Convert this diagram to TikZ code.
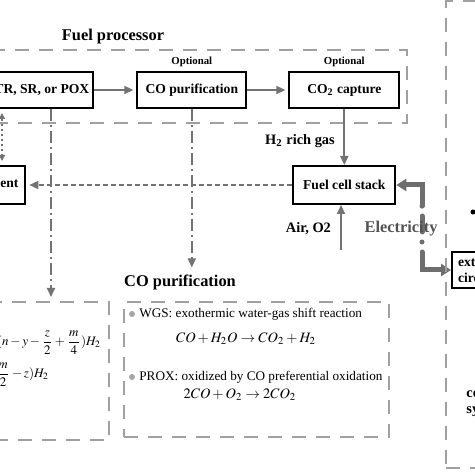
\documentclass[tikz,border=0pt]{standalone}
\usepackage{amsmath}
\usepackage{mathptmx}
\usepackage{fontspec}
\setmainfont{Liberation Serif}
\usetikzlibrary{arrows.meta, positioning, fit}
\definecolor{linegray}{HTML}{737373}
\definecolor{framegray}{HTML}{A0A0A0}
\definecolor{elecgray}{HTML}{6E6E6E}
\definecolor{dotgray}{HTML}{A6A6A6}
\newcommand{\headfont}{\fontsize{8.2}{10}\selectfont\bfseries}
\newcommand{\boxfont}{\fontsize{6.8}{8}\selectfont\bfseries}
\newcommand{\optfont}{\fontsize{5.4}{6}\selectfont\bfseries}
\newcommand{\labfont}{\fontsize{7.2}{8}\selectfont\bfseries}
\newcommand{\bodyfont}{\fontsize{6.6}{8}\selectfont}
\newcommand{\eqfont}{\fontsize{7.2}{9}\selectfont}
\newcommand{\reacfont}{\fontsize{6.5}{8}\selectfont}
\tikzset{
  procbox/.style={
    rectangle, draw=black, line width=1pt, fill=white, minimum height=18pt,
    text centered, font=\boxfont, inner sep=2pt
  },
  group/.style={
    draw=framegray, line width=1pt, dash pattern=on 7pt off 5pt, inner sep=0pt
  },
  arrow/.style={
    -{Triangle[length=4.5pt,width=4pt]}, line width=0.9pt, color=linegray
  },
  dashdot/.style={
    arrow, dash pattern=on 6pt off 2pt on 1pt off 2pt
  },
  dashline/.style={
    arrow, line width=0.8pt, dash pattern=on 2.5pt off 1.5pt
  },
  dotline/.style={
    {Triangle[length=3pt,width=3pt]}-{Triangle[length=3pt,width=3pt]},
    line width=0.9pt, color=linegray, dash pattern=on 1pt off 1.5pt
  },
  power/.style={
    -{Triangle[length=5pt,width=6pt]}, line width=2.5pt, color=elecgray, line cap=round
  },
  powerline/.style={
    line width=2.5pt, color=elecgray, line cap=round, dash pattern=on 0pt off 5pt on 8pt off 5pt
  },
  bullet/.style={circle, fill=dotgray, inner sep=0pt, minimum size=3pt}
}

\begin{document}
\begin{tikzpicture}[x=0.5pt, y=-0.5pt, node distance=21pt]
\useasboundingbox (0,0) rectangle (474,474);

\node[procbox, minimum width=55.5pt] (atr) at (37.5,90) {ATR, SR, or POX};
\node[procbox, minimum width=54.5pt, right=of atr] (copurif) {CO purification};
\node[procbox, minimum width=55pt, right=20.5pt of copurif] (cocap) {CO\textsubscript{2} capture};
\node[procbox, minimum width=51pt, minimum height=19pt, below=28pt of cocap] (stack) {Fuel cell stack};
\node[procbox, minimum width=60pt, minimum height=19pt, left=133pt of stack] (mgmt) {Heat management};
\node[procbox, anchor=west, align=left, inner xsep=3pt] (ext) at (451,270) {external\\circuit};

\node[font=\optfont, inner sep=1pt, above=1pt of copurif] (opt1) {Optional};
\node[font=\optfont, inner sep=1pt, above=1pt of cocap] (opt2) {Optional};
\node[font=\headfont] (fptitle) at (113,37) {Fuel processor};
\node[group, fit={(-30,50) (407,123)}] (fp) {};

\draw[arrow, shorten >=1.5pt] (atr) -- (copurif);
\draw[arrow, shorten >=1.5pt] (copurif) -- (cocap);
\draw[arrow] (cocap) -- (stack);
\node[font=\labfont] (h2lab) at (300,141) {H\textsubscript{2} rich gas};

\coordinate (airin) at (341,250);
\draw[arrow] (airin) -- (airin |- stack.south);
\node[font=\labfont, anchor=east] (airlab) at (338,229) {Air, O2};

\draw[dashline, shorten >=1.5pt] (stack) -- (mgmt);
\coordinate (loopx) at (2,0);
\draw[dotline, shorten <=2pt, shorten >=2pt] (atr.south -| loopx) -- (mgmt.north -| loopx);

\node[group, fit={(-30,302) (109,440)}] (reac) {};
\node[group, fit={(124,302) (389,437)}] (purbox) {};
\node[font=\headfont] (purtitle) at (180,282) {CO purification};

\coordinate (atrdrop) at (51,0);
\draw[dashdot, shorten >=2pt] (atr.south -| atrdrop) -- (reac.north -| atrdrop);
\draw[dashdot] (copurif.south) -- (copurif.south |- purtitle.north);

\node[font=\reacfont, anchor=east] (atreq) at (108,343) {$\displaystyle(n-y-\frac{z}{2}+\frac{m}{4})H_2$};
\node[font=\reacfont, anchor=east] (sreq) at (56,375) {$\displaystyle(n+\frac{m}{2}-z)H_2$};
\node[font=\reacfont, anchor=east] (poxeq) at (6,417) {$nCO_2$};

\node[bullet] (b1) at (132,314) {};
\node[font=\bodyfont, anchor=west, inner sep=0pt] (wgs) at (139,314) {WGS: exothermic water-gas shift reaction};
\node[font=\eqfont] (wgseq) at (246,339) {$CO+H_2O\rightarrow CO_2+H_2$};
\node[bullet] (b2) at (132,377) {};
\node[font=\bodyfont, anchor=west, inner sep=0pt] (prox) at (139,377) {PROX: oxidized by CO preferential oxidation};
\node[font=\eqfont] (proxeq) at (240,395) {$2CO+O_2\rightarrow 2CO_2$};

\coordinate (ptop) at (422,206);
\coordinate (pbot) at (422,258);
\draw[power] (ptop) |- (stack.east);
\draw[powerline] (ptop) -- (pbot);
\draw[power] (pbot) |- (ext.west);
\node[font=\fontsize{8.2}{9}\selectfont\bfseries, text=elecgray!75!black] (eleclab) at (401,229) {Electricity};

\node[group, fit={(446,1) (540,468)}] (ctrl) {};
\node[circle, fill=black, inner sep=0pt, minimum size=2.5pt] (ctrldot) at (473,212) {};
\node[font=\labfont, anchor=north west, align=left, inner sep=0pt] (ctrltext) at (466,387) {control\\system};
\end{tikzpicture}
\end{document}
